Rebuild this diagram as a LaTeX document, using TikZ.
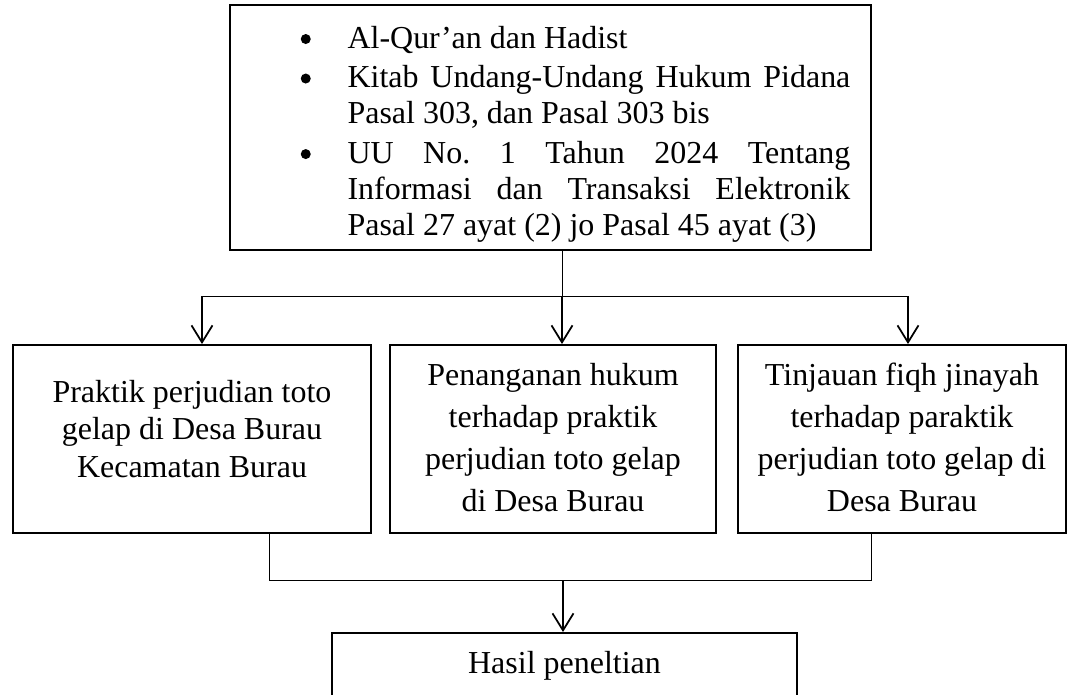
\documentclass[tikz,border=0pt]{standalone}
\usepackage{fontspec}
\setmainfont{Liberation Serif}
\usetikzlibrary{arrows.meta}
\newcommand{\butir}{\hspace*{1.414cm}\makebox[0.936cm][l]{\tikz[baseline=-1.8mm]\fill (0,0) circle (1mm);}}
\newcommand{\lanjut}{\hspace*{2.35cm}}
\newcommand{\rata}[1]{\makebox[10.06cm][s]{#1}}
\newcommand{\teks}[2]{\parbox[t]{#1}{\centering #2}}
\tikzset{
  >={Straight Barb[length=3.4mm,width=4.2mm]},
  kotak/.style={draw,line width=0.4mm,inner sep=0pt,font=\fontsize{18.2}{#1}\selectfont},
  tepi/.style 2 args={text height=#1,text depth=#2},
  garis/.style={line width=0.2mm},
  panah/.style={->,line width=0.35mm},
}

\begin{document}
\begin{tikzpicture}[x=0.02cm,y=-0.02cm]
\useasboundingbox (0,0) rectangle (1067,694);
\node[kotak=20.5,tepi={8.6mm}{40.4mm}] (dasar) at (550.5,127.5) {\parbox[t]{128.2mm}{%
 \butir Al-Qur’an dan Hadist\\[0.7mm]
 \butir\rata{Kitab Undang-Undang Hukum Pidana}\\
 \lanjut Pasal 303, dan Pasal 303 bis\\[0.7mm]
 \butir\rata{UU No.\ 1 Tahun 2024 Tentang}\\
 \lanjut\rata{Informasi dan Transaksi Elektronik}\\
 \lanjut Pasal 27 ayat (2) jo Pasal 45 ayat (3)}};
\node[kotak=21.3,tepi={11.5mm}{26.1mm}] (k1) at (192,439) {\teks{71.6mm}{Praktik perjudian toto\\gelap di Desa Burau\\Kecamatan Burau}};
\node[kotak=23.9,tepi={8.1mm}{29.5mm}] (k2) at (553,439) {\teks{65.2mm}{Penanganan hukum\\terhadap praktik\\perjudian toto gelap\\di Desa Burau}};
\node[kotak=23.9,tepi={8.1mm}{29.5mm}] (k3) at (902,439) {\teks{65.6mm}{Tinjauan fiqh jinayah\\terhadap paraktik\\perjudian toto gelap di\\Desa Burau}};
\node[kotak=23.9,tepi={8mm}{16mm}] (hasil) at (564.5,693) {\teks{93mm}{Hasil peneltian}};
\coordinate (cabang) at (562,296);
\coordinate (gabung) at (563,580);
\coordinate (b1) at (269,580);
\coordinate (b3) at (871,580);
\foreach \x/\k in {202/k1,562/k2,908/k3}
  \coordinate (t\k) at (\x,296);
\draw[garis] (dasar.south -| cabang) -- (cabang);
\draw[garis] (tk1) -- (tk3);
\foreach \k in {k1,k2,k3}
  \draw[panah] (t\k) -- (t\k |- \k.north);
\draw[garis] (b1 |- k1.south) -- (b1) -- (b3) -- (b3 |- k3.south);
\draw[panah] (gabung) -- (gabung |- hasil.north);
\end{tikzpicture}
\end{document}
